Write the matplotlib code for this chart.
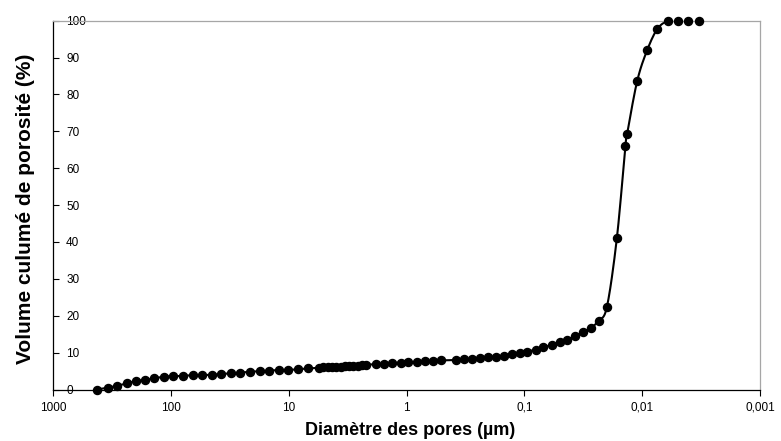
import numpy as np
import matplotlib
matplotlib.use("Agg")
import matplotlib.pyplot as plt
from matplotlib.ticker import FixedLocator, FixedFormatter, NullLocator

plt.rcParams["font.family"] = ["Liberation Sans", "DejaVu Sans"]

# =========================
# data
# =========================
diametre = [
    421, 343, 285, 237, 197, 166, 138, 114, 95.2, 78.8,
    65.2, 54.3, 45.0, 37.3, 30.8, 25.7, 21.3, 17.6, 14.7, 12.1,
    10.06, 8.32, 6.84,
    5.52, 5.08, 4.67, 4.30, 3.95, 3.63, 3.35, 3.08, 2.83, 2.60, 2.40, 2.20,
    1.81, 1.55, 1.32, 1.12, 0.964, 0.818, 0.695, 0.598, 0.512,
    0.379, 0.3225, 0.2758, 0.2372, 0.2017, 0.1735, 0.1484, 0.1277, 0.1086,
    0.0941, 0.0799, 0.0689, 0.0584, 0.0502, 0.0433, 0.0370, 0.0319, 0.0273,
    0.0233, 0.0199, 0.0164, 0.01387, 0.01341, 0.01103, 0.00907, 0.00742,
    0.00601, 0.00495, 0.00407, 0.00330,
]
volume = [
    0.0, 0.5, 1.0, 1.7, 2.3, 2.6, 3.0, 3.5, 3.6, 3.7,
    3.9, 3.9, 4.0, 4.2, 4.4, 4.6, 4.8, 5.0, 5.1, 5.3,
    5.3, 5.5, 5.7,
    5.9, 6.0, 6.0, 6.1, 6.2, 6.2, 6.3, 6.4, 6.4, 6.5, 6.6, 6.7,
    6.9, 7.0, 7.2, 7.3, 7.4, 7.5, 7.6, 7.8, 7.9,
    8.0, 8.2, 8.3, 8.5, 8.8, 8.9, 9.2, 9.5, 9.9,
    10.3, 10.8, 11.4, 12.1, 12.8, 13.5, 14.4, 15.6, 16.7,
    18.7, 22.45, 41.0, 66.0, 69.3, 83.6, 92.0, 97.8,
    100, 100, 100, 100,
]

x_ticks = [1000, 100, 10, 1, 0.1, 0.01, 0.001]
x_tick_labels = ["1000", "100", "10", "1", "0,1", "0,01", "0,001"]
y_ticks = list(range(0, 101, 10))


# smoothed line like Excel (Catmull-Rom in log-x space), drawing only
def smooth_line(x, y, n=12):
    lx = np.log10(np.asarray(x, float))
    yy = np.asarray(y, float)
    px = np.concatenate([[2 * lx[0] - lx[1]], lx, [2 * lx[-1] - lx[-2]]])
    py = np.concatenate([[2 * yy[0] - yy[1]], yy, [2 * yy[-1] - yy[-2]]])
    out_x, out_y = [], []
    t = np.linspace(0, 1, n, endpoint=False)
    for i in range(1, len(px) - 2):
        for p, out in ((px, out_x), (py, out_y)):
            p0, p1, p2, p3 = p[i - 1], p[i], p[i + 1], p[i + 2]
            out.extend(0.5 * (2 * p1 + (-p0 + p2) * t
                              + (2 * p0 - 5 * p1 + 4 * p2 - p3) * t ** 2
                              + (-p0 + 3 * p1 - 3 * p2 + p3) * t ** 3))
    out_x.append(lx[-1])
    out_y.append(yy[-1])
    return 10 ** np.array(out_x), np.array(out_y)


fig = plt.figure(figsize=(7.81, 4.41), dpi=100)
ax = fig.add_axes([53 / 781, 1 - 389.5 / 441, 707 / 781, 368.8 / 441])

sx, sy = smooth_line(diametre, volume)
ax.plot(sx, sy, color="black", linewidth=1.5, zorder=2)
ax.plot(diametre, volume, linestyle="none", marker="o", markersize=5.8,
        color="black", zorder=3, clip_on=False)

ax.set_xscale("log")
ax.set_xlim(1000, 0.001)
ax.set_ylim(0, 100)

ax.xaxis.set_major_locator(FixedLocator(x_ticks))
ax.xaxis.set_major_formatter(FixedFormatter(x_tick_labels))
ax.xaxis.set_minor_locator(NullLocator())
ax.set_yticks(y_ticks)

ax.tick_params(axis="x", direction="out", length=4, width=0.8,
               labelsize=8.5, pad=5, colors="black")
# y ticks inside, labels sitting inside the plot area like the original
ax.tick_params(axis="y", direction="in", length=4, width=0.8,
               labelsize=8.5, pad=-9.4, colors="black")
for lbl in ax.get_yticklabels():
    lbl.set_horizontalalignment("left")

for side in ["left", "bottom"]:
    ax.spines[side].set_color("black")
    ax.spines[side].set_linewidth(0.9)
for side in ["top", "right"]:
    ax.spines[side].set_color("#a6a6a6")
    ax.spines[side].set_linewidth(0.9)

ax.set_xlabel("Diamètre des pores (µm)", fontsize=13, fontweight="bold")
ax.set_ylabel("Volume culumé de porosité (%)", fontsize=15,
              fontweight="bold")
ax.xaxis.set_label_coords(0.505, -0.088)
ax.yaxis.set_label_coords(-0.026, 0.491)

fig.savefig("out.png", dpi=100)
